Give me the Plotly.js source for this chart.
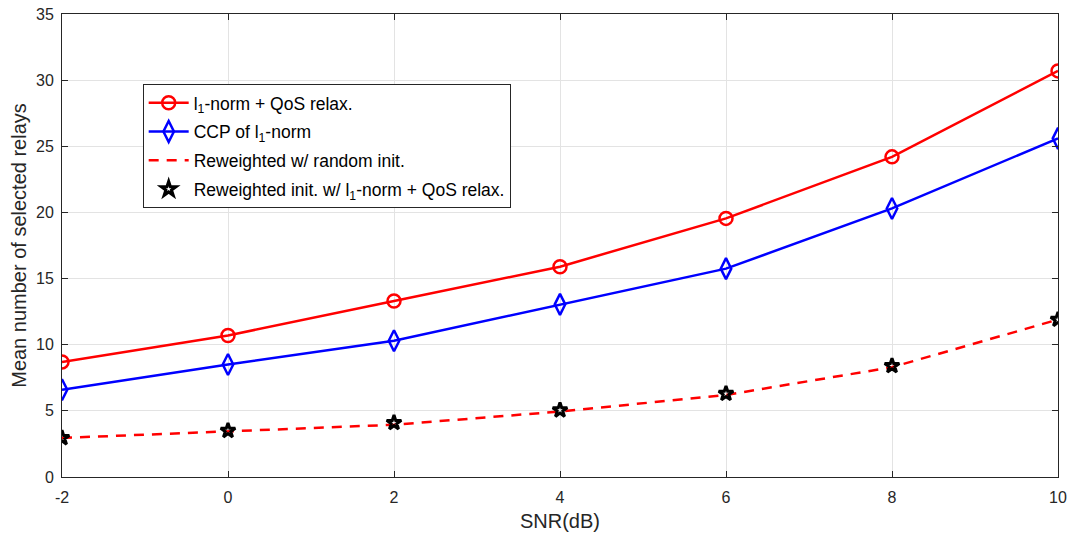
<!DOCTYPE html>
<html>
<head>
<meta charset="utf-8">
<script src="https://cdn.plot.ly/plotly-3.0.1.min.js"></script>
<style>html,body{margin:0;padding:0;background:#fff;}#chart{width:1071px;height:537px;}</style>
</head>
<body>
<div id="chart"></div>
<script>
const snr = [-2, 0, 2, 4, 6, 8, 10];
const l1QosRelax = [8.7, 10.7, 13.3, 15.9, 19.55, 24.2, 30.7];
const ccpL1 = [6.6, 8.5, 10.3, 13.05, 15.75, 20.3, 25.6];
const reweightedRandom = [2.95, 3.45, 3.95, 4.95, 6.2, 8.3, 11.9];
const reweightedInitL1 = [2.95, 3.5, 4.1, 5.05, 6.3, 8.4, 11.9];
const names = [
  'l<sub>1</sub>-norm + QoS relax.',
  'CCP of l<sub>1</sub>-norm',
  'Reweighted w/ random init.',
  'Reweighted init. w/ l<sub>1</sub>-norm + QoS relax.'
];
const xTicks = [-2, 0, 2, 4, 6, 8, 10];
const yTicks = [0, 5, 10, 15, 20, 25, 30, 35];

const traces = [
  {x: snr, y: l1QosRelax, name: names[0], mode: 'lines+markers', legendgroup: 'a',
   line: {color: '#ff0000', width: 2.5},
   marker: {symbol: 'circle-open', size: 13, color: '#ff0000', line: {width: 2.5, color: '#ff0000'}}},
  {x: snr, y: ccpL1, name: names[1], mode: 'lines+markers', legendgroup: 'b',
   line: {color: '#0000ff', width: 2.5},
   marker: {symbol: 'diamond-tall-open', size: 15, color: '#0000ff', line: {width: 2.5, color: '#0000ff'}}},
  {x: snr, y: reweightedRandom, name: names[2], mode: 'lines', legendgroup: 'c',
   line: {color: '#ff0000', width: 2.5, dash: '10px,8px'}},
  {x: snr, y: reweightedInitL1, name: names[3], mode: 'markers', legendgroup: 'd',
   marker: {symbol: 'star-open', size: 11, color: '#000000', line: {width: 3, color: '#000000'}}}
];

const fam = 'Liberation Sans, Arial, sans-serif';
const axisCommon = {
  showline: true, linecolor: '#262626', linewidth: 1, mirror: 'ticks',
  ticks: 'inside', ticklen: 6, tickcolor: '#262626',
  showgrid: true, gridcolor: '#e3e3e3', gridwidth: 1, zeroline: false,
  tickfont: {family: fam, size: 16, color: '#262626'}
};

const layout = {
  width: 1071, height: 537,
  margin: {l: 62, r: 13, t: 14, b: 60},
  paper_bgcolor: '#ffffff', plot_bgcolor: '#ffffff',
  showlegend: true,
  xaxis: Object.assign({}, axisCommon, {
    range: [-2, 10], tickvals: xTicks, ticktext: xTicks.map(String),
    ticklabelstandoff: 6,
    title: {text: 'SNR(dB)', font: {family: fam, size: 20, color: '#262626'}, standoff: 8}
  }),
  yaxis: Object.assign({}, axisCommon, {
    range: [0, 35], tickvals: yTicks, ticktext: yTicks.map(String),
    ticklabelstandoff: 4,
    title: {text: 'Mean number of selected relays', font: {family: fam, size: 20, color: '#262626'}, standoff: 4}
  }),
  legend: {
    x: 0.081, y: 0.849, xanchor: 'left', yanchor: 'top',
    bgcolor: '#ffffff', bordercolor: '#262626', borderwidth: 1,
    font: {family: fam, size: 17.5, color: '#000000'},
    tracegroupgap: 3, itemwidth: 40,
    entrywidth: 396, entrywidthmode: 'pixels'
  }
};

Plotly.newPlot('chart', traces, layout, {displayModeBar: false, staticPlot: true});
</script>
</body>
</html>
